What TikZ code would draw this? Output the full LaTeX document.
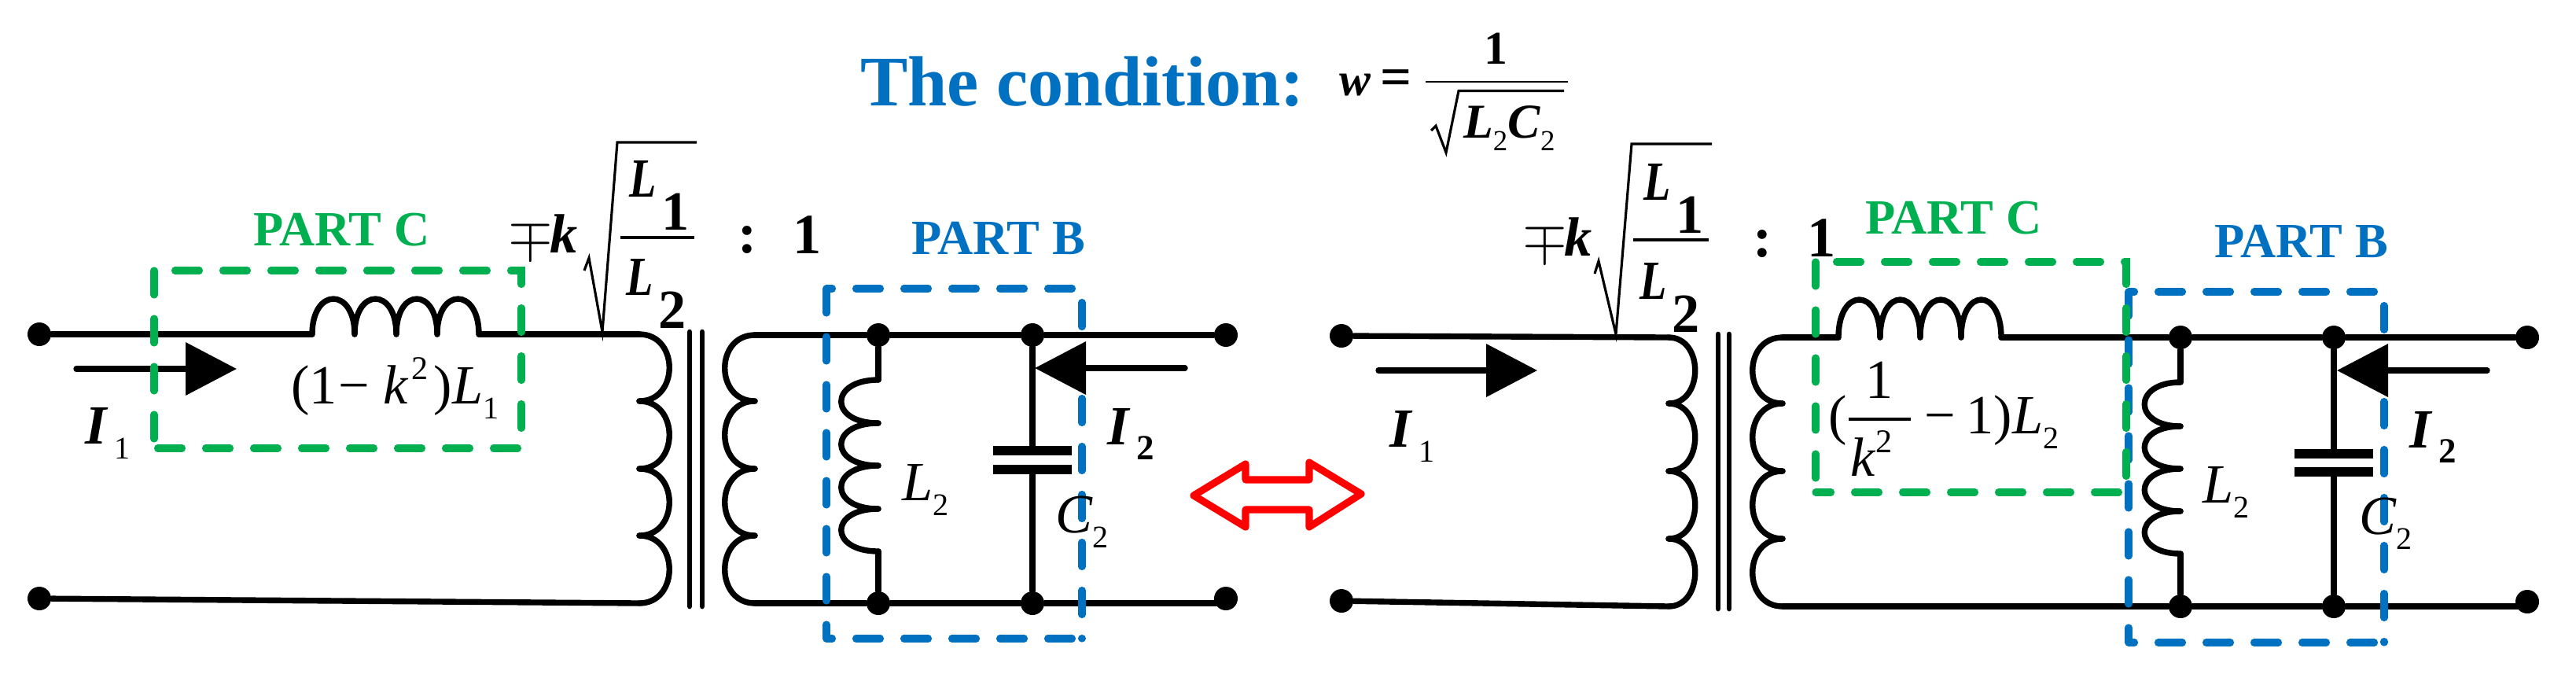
\documentclass[tikz,border=0pt]{standalone}
\usepackage{fontspec}
\usepackage{graphicx}
\setmainfont{Liberation Serif}
\usetikzlibrary{arrows.meta}
\definecolor{partgreen}{HTML}{00B050}
\definecolor{partblue}{HTML}{0070C0}
\def\symsub#1#2{{\fontsize{20}{20}\selectfont #1\raisebox{-0.27em}{\fontsize{11.4}{12}\selectfont #2}}}
\def\cursub#1#2{{\fontsize{20}{20}\selectfont\textbf{\textit{#1}}\kern0.11em\raisebox{-0.28em}{#2}}}
\def\ratio#1#2{{\fontsize{20}{20}\selectfont\scalebox{0.8}[1]{\textbf{\textit{#1}}}\kern0.1em\raisebox{-0.6em}{\textbf{#2}}}}
\def\greenframe(#1,#2)(#3,#4){
	\draw[greenbox, dash phase=0.345cm] (#1,#2) -- (#3,#2) -- (#3,#4) -- (#1,#4);
	\draw[greenbox] (#1,#2) -- (#1,#4);
}
\def\blueframe(#1,#2)(#3,#4){
	\draw[bluebox, dash phase=0.235cm] (#1,#2) -- (#3,#2) -- (#3,#4);
	\draw[bluebox, dash phase=0.235cm] (#1,#4) -- (#3,#4);
	\draw[bluebox] (#1,#2) -- (#1,#4);
}
\tikzset{
	wire/.style={line width=2.1pt, line cap=round, line join=round},
	core/.style={line width=1.9pt, line cap=round},
	radical/.style={line width=0.9pt, line join=miter},
	flow/.style={wire, -{Triangle[length=0.65cm, width=0.66cm]}},
	dot/.style={circle, fill=black, minimum size=0.30cm, inner sep=0pt},
	plate/.style={rectangle, fill=black, minimum width=1.0cm, minimum height=0.115cm, inner sep=0pt},
	greenbox/.style={color=partgreen, line width=2.6pt, line cap=round, dash pattern=on 0.31cm off 0.30cm},
	bluebox/.style={color=partblue, line width=2.6pt, line cap=round, dash pattern=on 0.31cm off 0.30cm},
	txt/.style={inner sep=0pt, outer sep=0pt, anchor=base west},
	parttxt/.style={txt, font=\fontsize{17.8}{18}\selectfont\bfseries},
	bold/.style={txt, anchor=base, font=\fontsize{20.6}{21}\selectfont\bfseries},
}
\begin{document}
\begin{tikzpicture}
	%%%%% FRAME %%%%%
	\useasboundingbox (0,0) rectangle (32.76,-8.56);
	
	%%%%% CONDITION %%%%%
	\node[txt, text=partblue, font=\fontsize{25.7}{26}\selectfont\bfseries] (title) at (10.94,-1.34) {The condition:};
	\node[txt, font=\fontsize{17}{18}\selectfont\bfseries] (wsym) at (17.03,-1.21) {\textit{w}\kern0.2em{\fontsize{20}{20}\selectfont =}};
	\node[txt, anchor=base, font=\fontsize{17}{18}\selectfont\bfseries] (wnum) at (19.02,-0.81) {1};
	\draw[line width=0.8pt] (18.13,-1.04) -- (19.94,-1.04);
	\draw[radical] (18.20,-1.66) -- (18.26,-1.60) -- (18.39,-1.94) -- (18.55,-1.155) -- (19.89,-1.155);
	\node[txt, font=\fontsize{17.6}{18}\selectfont\bfseries] (wden) at (18.61,-1.75) {\textit{L}\raisebox{-0.26em}{\fontsize{10.5}{11}\selectfont\mdseries 2}\textit{C}\raisebox{-0.26em}{\fontsize{10.5}{11}\selectfont\mdseries 2}};
	
	%%%%% LEFT CIRCUIT %%%%%
	\node[dot] (tla) at (0.50,-4.25) {};
	\node[dot] (tlb) at (0.50,-7.61) {};
	\node[dot] (tra) at (15.59,-4.26) {};
	\node[dot] (trb) at (15.59,-7.61) {};
	\node[dot] (ja) at (11.17,-4.26) {};
	\node[dot] (jb) at (13.13,-4.26) {};
	\node[dot] (jc) at (11.17,-7.67) {};
	\node[dot] (jd) at (13.13,-7.67) {};
	\coordinate (la) at (3.97,-4.25);
	\coordinate (lb) at (6.09,-4.25);
	\coordinate (pa) at (8.13,-4.25);
	\coordinate (pb) at (8.13,-7.67);
	\coordinate (sa) at (9.60,-4.26);
	\coordinate (sb) at (9.60,-7.67);
	\coordinate (ma) at (11.17,-4.83);
	\coordinate (mb) at (11.17,-7.01);
	\node[plate] (ca) at (13.13,-5.73) {};
	\node[plate] (cb) at (13.13,-5.97) {};
	
	\draw[wire] (tla) -- (la);
	\draw[wire] (lb) -- (pa);
	\draw[wire] (tlb) -- (pb);
	\draw[wire] (sa) -- (ja) -- (jb) -- (tra);
	\draw[wire] (sb) -- (jc) -- (jd) -- (sb -| trb);
	\draw[wire] (ja) -- (ma);
	\draw[wire] (mb) -- (jc);
	\draw[wire] (jb) -- (ca);
	\draw[wire] (cb) -- (jd);
	\foreach \xa/\xb in {3.97/4.51,4.51/5.04,5.04/5.56,5.56/6.09}
		\draw[wire] (\xa,-4.25) .. controls (\xa,-3.65) and (\xb,-3.65) .. (\xb,-4.25);
	\foreach \ya/\yb in {4.25/5.10,5.10/5.96,5.96/6.81,6.81/7.67}
		\draw[wire] (8.13,-\ya) .. controls (8.64,-\ya) and (8.64,-\yb) .. (8.13,-\yb);
	\foreach \ya/\yb in {4.26/5.10,5.10/5.96,5.96/6.81,6.81/7.67}
		\draw[wire] (9.60,-\ya) .. controls (9.09,-\ya) and (9.09,-\yb) .. (9.60,-\yb);
	\foreach \ya/\yb in {4.83/5.38,5.38/5.92,5.92/6.47,6.47/7.01}
		\draw[wire] (11.17,-\ya) .. controls (10.54,-\ya) and (10.54,-\yb) .. (11.17,-\yb);
	\draw[core] (8.77,-4.22) -- (8.77,-7.71);
	\draw[core] (8.93,-4.22) -- (8.93,-7.71);
	
	\coordinate (ila) at (0.97,-4.69);
	\coordinate (ilb) at (3.01,-4.69);
	\draw[flow] (ila) -- (ilb);
	
	\blueframe(10.51,-3.67)(13.76,-8.12)
	\greenframe(1.96,-3.44)(6.63,-5.70)
	
	\coordinate (ira) at (15.07,-4.68);
	\coordinate (irb) at (13.16,-4.68);
	\draw[flow] (ira) -- (irb);
	
	\node[parttxt, text=partgreen] (pc) at (3.22,-3.12) {PART C};
	\node[parttxt, text=partblue] (pd) at (11.59,-3.23) {PART B};
	\node[txt] (coef) at (6.46,-3.21) {\fontsize{20}{20}\selectfont$\mp$\kern-0.05em\textbf{\textit{k}}};
	\draw[radical] (7.43,-3.44) -- (7.49,-3.28) -- (7.66,-4.22) -- (7.85,-1.81) -- (8.86,-1.81);
	\draw[line width=1.1pt] (7.89,-3.02) -- (8.83,-3.02);
	\node[txt] (ln) at (8.00,-2.50) {\ratio{L}{1}};
	\node[txt] (ld) at (7.96,-3.75) {\ratio{L}{2}};
	\node[bold] (col) at (9.51,-3.21) {:};
	\node[bold] (one) at (10.27,-3.22) {1};
	\node[txt] (ione) at (1.08,-5.64) {\cursub{I}{\fontsize{11.4}{12}\selectfont 1}};
	\node[txt] (itwo) at (14.08,-5.65) {\cursub{I}{\fontsize{12.8}{13}\selectfont\textbf{2}}};
	\node[txt] (ltwo) at (11.47,-6.36) {\symsub{\textit{L}}{2}};
	\node[txt] (ctwo) at (13.42,-6.77) {\symsub{\textit{C}}{2}};
	\node[txt] (lser) at (3.70,-5.13) {\fontsize{20}{20}\selectfont (1\kern0.03em−\kern0.25em\textit{k}\kern0.05em\raisebox{0.44em}{\fontsize{12}{12}\selectfont 2}\kern0.1em)\textit{L}\raisebox{-0.27em}{\fontsize{11.4}{12}\selectfont 1}};
	
	%%%%% EQUIVALENCE %%%%%
	\draw[color=red, line width=2.6pt, line join=round] (15.18,-6.30) -- (15.84,-5.90) -- (15.84,-6.10) -- (16.65,-6.10) -- (16.65,-5.88) -- (17.31,-6.28) -- (16.65,-6.70) -- (16.65,-6.48) -- (15.84,-6.48) -- (15.84,-6.70) -- cycle;
	
	%%%%% RIGHT CIRCUIT %%%%%
	\node[dot] (uta) at (17.06,-4.27) {};
	\node[dot] (utb) at (17.06,-7.64) {};
	\node[dot] (ura) at (32.14,-4.29) {};
	\node[dot] (urb) at (32.14,-7.65) {};
	\node[dot] (ka) at (27.73,-4.29) {};
	\node[dot] (kb) at (29.68,-4.29) {};
	\node[dot] (kc) at (27.73,-7.71) {};
	\node[dot] (kd) at (29.68,-7.71) {};
	\coordinate (qa) at (21.22,-4.29);
	\coordinate (qb) at (21.22,-7.71);
	\coordinate (ra) at (22.67,-4.29);
	\coordinate (rb) at (22.67,-7.71);
	\coordinate (na) at (23.38,-4.29);
	\coordinate (nb) at (25.45,-4.29);
	\coordinate (oa) at (27.73,-4.86);
	\coordinate (ob) at (27.73,-7.04);
	\node[plate] (da) at (29.68,-5.77) {};
	\node[plate] (db) at (29.68,-6.00) {};
	
	\draw[wire] (uta) -- (qa);
	\draw[wire] (utb) -- (qb);
	\draw[wire] (ra) -- (na);
	\draw[wire] (nb) -- (ka) -- (kb) -- (ura);
	\draw[wire] (rb) -- (kc) -- (kd) -- (rb -| urb);
	\draw[wire] (ka) -- (oa);
	\draw[wire] (ob) -- (kc);
	\draw[wire] (kb) -- (da);
	\draw[wire] (db) -- (kd);
	\foreach \xa/\xb in {23.38/23.91,23.91/24.42,24.42/24.94,24.94/25.45}
		\draw[wire] (\xa,-4.29) .. controls (\xa,-3.65) and (\xb,-3.65) .. (\xb,-4.29);
	\foreach \ya/\yb in {4.29/5.13,5.13/5.99,5.99/6.85,6.85/7.71}
		\draw[wire] (21.22,-\ya) .. controls (21.67,-\ya) and (21.67,-\yb) .. (21.22,-\yb);
	\foreach \ya/\yb in {4.29/5.13,5.13/5.99,5.99/6.85,6.85/7.71}
		\draw[wire] (22.67,-\ya) .. controls (22.16,-\ya) and (22.16,-\yb) .. (22.67,-\yb);
	\foreach \ya/\yb in {4.86/5.42,5.42/5.96,5.96/6.50,6.50/7.04}
		\draw[wire] (27.73,-\ya) .. controls (27.12,-\ya) and (27.12,-\yb) .. (27.73,-\yb);
	\draw[core] (21.85,-4.25) -- (21.85,-7.74);
	\draw[core] (21.99,-4.25) -- (21.99,-7.74);
	
	\coordinate (jla) at (17.53,-4.71);
	\coordinate (jlb) at (19.55,-4.71);
	\draw[flow] (jla) -- (jlb);
	
	\blueframe(27.07,-3.71)(30.32,-8.17)
	\greenframe(23.09,-3.33)(27.04,-6.26)
	
	\coordinate (jra) at (31.63,-4.71);
	\coordinate (jrb) at (29.72,-4.71);
	\draw[flow] (jra) -- (jrb);
	
	\node[parttxt, text=partgreen] (qc) at (23.72,-2.97) {PART C};
	\node[parttxt, text=partblue] (qd) at (28.16,-3.27) {PART B};
	\node[txt] (roef) at (19.36,-3.25) {\fontsize{20}{20}\selectfont$\mp$\kern-0.05em\textbf{\textit{k}}};
	\draw[radical] (20.28,-3.48) -- (20.33,-3.32) -- (20.55,-4.25) -- (20.75,-1.83) -- (21.77,-1.83);
	\draw[line width=1.1pt] (20.77,-3.05) -- (21.73,-3.05);
	\node[txt] (rn) at (20.90,-2.54) {\ratio{L}{1}};
	\node[txt] (rd) at (20.85,-3.80) {\ratio{L}{2}};
	\node[bold] (rol) at (22.42,-3.26) {:};
	\node[bold] (rone) at (23.17,-3.26) {1};
	\node[txt] (jone) at (17.67,-5.68) {\cursub{I}{\fontsize{11.4}{12}\selectfont 1}};
	\node[txt] (jtwo) at (30.64,-5.69) {\cursub{I}{\fontsize{12.8}{13}\selectfont\textbf{2}}};
	\node[txt] (mtwo) at (28.01,-6.39) {\symsub{\textit{L}}{2}};
	\node[txt] (dtwo) at (30.00,-6.79) {\symsub{\textit{C}}{2}};
	\node[txt] (lpar) at (23.25,-5.51) {\fontsize{20}{20}\selectfont (};
	\draw[line width=1.1pt] (23.51,-5.33) -- (24.30,-5.33);
	\node[txt, anchor=base] (fnum) at (23.90,-5.06) {\fontsize{20}{20}\selectfont 1};
	\node[txt] (fden) at (23.53,-6.05) {\fontsize{20}{20}\selectfont\textit{k}\raisebox{0.42em}{\fontsize{12}{12}\selectfont 2}};
	\node[txt] (lrst) at (24.47,-5.51) {\fontsize{20}{20}\selectfont −\kern0.2em 1)\textit{L}\raisebox{-0.27em}{\fontsize{11.4}{12}\selectfont 2}};
\end{tikzpicture}
\end{document}
